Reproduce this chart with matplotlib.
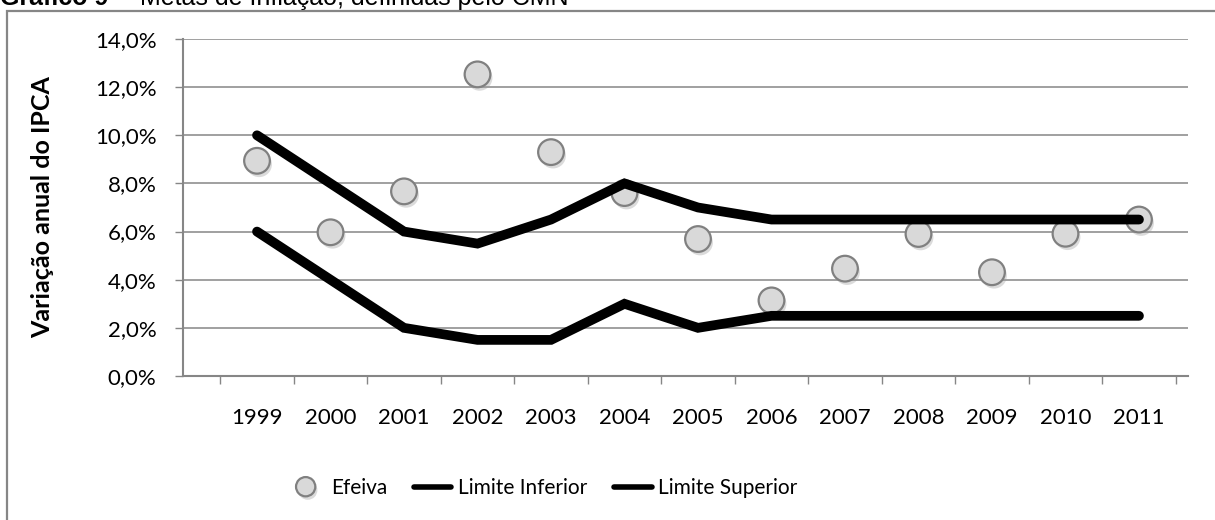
import matplotlib
matplotlib.use("Agg")
import matplotlib.pyplot as plt
import matplotlib.patheffects as pe
from matplotlib.patches import Rectangle

# dados do gráfico
anos = ['1999', '2000', '2001', '2002', '2003', '2004', '2005',
        '2006', '2007', '2008', '2009', '2010', '2011']
efetiva = [8.94, 5.97, 7.67, 12.53, 9.30, 7.60, 5.69, 3.14, 4.46, 5.90, 4.31, 5.91, 6.50]
limite_inferior = [6.0, 4.0, 2.0, 1.5, 1.5, 3.0, 2.0, 2.5, 2.5, 2.5, 2.5, 2.5, 2.5]
limite_superior = [10.0, 8.0, 6.0, 5.5, 6.5, 8.0, 7.0, 6.5, 6.5, 6.5, 6.5, 6.5, 6.5]
y_ticks = [0, 2, 4, 6, 8, 10, 12, 14]
y_labels = ['0,0%', '2,0%', '4,0%', '6,0%', '8,0%', '10,0%', '12,0%', '14,0%']

GRAY = '#868686'
FONT = 'Lato'

W, H = 1215, 520
fig = plt.figure(figsize=(W / 100, H / 100), dpi=100)
ax = fig.add_axes([183 / W, 1 - 376 / H, (1188 - 183) / W, (376 - 39) / H])

x = list(range(len(anos)))

# pontos da inflação efetiva, com sombra leve
ax.plot(x, efetiva, linestyle='none', marker='o', markersize=18.5,
        markerfacecolor='#d9d9d9', markeredgecolor='#808080', markeredgewidth=1.6,
        label='Efeiva', zorder=3,
        path_effects=[pe.SimplePatchShadow(offset=(1.5, -2.5), shadow_rgbFace='#9a9a9a', alpha=0.35),
                      pe.Normal()])
ax.plot(x, limite_inferior, color='black', linewidth=7, solid_capstyle='round',
        solid_joinstyle='miter', label='Limite Inferior', zorder=4)
ax.plot(x, limite_superior, color='black', linewidth=7, solid_capstyle='round',
        solid_joinstyle='miter', label='Limite Superior', zorder=4)

ax.set_xlim(-1.007, 12.667)
ax.set_ylim(0, 14)

ax.set_yticks(y_ticks)
ax.set_yticklabels(y_labels, fontsize=16, family=FONT)
ax.tick_params(axis='y', length=6, width=1, color=GRAY, pad=13)
ax.yaxis.grid(True, color=GRAY, linewidth=1.1)
ax.set_axisbelow(True)

# marcas entre categorias, rótulos no centro
ax.set_xticks([i - 0.5 for i in range(len(anos) + 1)])
ax.set_xticklabels([])
ax.tick_params(axis='x', which='major', length=6, width=1, color=GRAY, direction='out')
ax.set_xticks(x, minor=True)
ax.set_xticklabels(anos, minor=True, fontsize=16, family=FONT)
ax.tick_params(axis='x', which='minor', length=0, pad=23)

for s in ['top', 'right']:
    ax.spines[s].set_visible(False)
for s in ['left', 'bottom']:
    ax.spines[s].set_color(GRAY)
    ax.spines[s].set_linewidth(1.5)

ax.set_ylabel('Variação anual do IPCA', fontsize=18, fontweight='bold', family=FONT)
ax.yaxis.set_label_coords((54 - 183) / (1188 - 183), 0.5)

leg = fig.legend(loc='center', bbox_to_anchor=(542 / W, 1 - 488 / H), ncol=3,
                 frameon=False, prop={'family': FONT, 'size': 15},
                 handlelength=1.8, handletextpad=0.3, columnspacing=1.3, markerscale=0.75)
for h in leg.legend_handles[1:]:
    h.set_linewidth(4)

# moldura da área do gráfico
fig.patches.append(Rectangle((7 / W, -0.2), 1.2, 1 - 11 / H + 0.2, transform=fig.transFigure,
                             fill=False, edgecolor=GRAY, linewidth=1.6))

# título cortado no topo, como no original
fig.text(0.0, 1 - 5 / H, 'Gráfico 9', fontsize=18, fontweight='bold',
         family='Liberation Sans', va='baseline', ha='left')
fig.text(112 / W, 1 - 5 / H, '–  Metas de Inflação, definidas pelo CMN', fontsize=18,
         family='Liberation Sans', va='baseline', ha='left')

fig.savefig('out.png', dpi=100)
